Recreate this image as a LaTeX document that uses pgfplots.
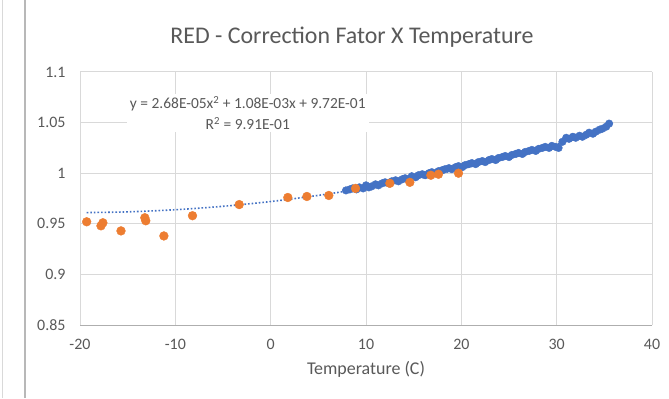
\documentclass[border=0pt]{standalone}
\usepackage{fontspec}
\setmainfont{Carlito}
\usepackage{pgfplots}
\pgfplotsset{compat=1.18}
\definecolor{xblue}{HTML}{4472C4}
\definecolor{xorange}{HTML}{ED7D31}
\definecolor{xgrid}{HTML}{D9D9D9}
\definecolor{xtext}{HTML}{595959}
\begin{document}
\begin{tikzpicture}[x=1bp,y=1bp]
\useasboundingbox (0,0) rectangle (669,398);
\fill[white] (0,0) rectangle (669,398);
\draw[xgrid,line width=1bp] (2.5,0)--(2.5,398);
\draw[xgrid!85!black,line width=1.2bp] (25,0)--(25,398);
\node[text=xtext,font=\fontsize{24}{26}\selectfont] at (352,361) {RED - Correction Fator X Temperature};
\begin{axis}[
  at={(80bp,73bp)}, anchor=south west,
  scale only axis, width=572bp, height=253bp,
  xmin=-20, xmax=40, ymin=0.85, ymax=1.1,
  xtick={-20,-10,0,10,20,30,40},
  xticklabels={-20,-10,0,10,20,30,40},
  ytick={0.85,0.9,0.95,1,1.05,1.1},
  yticklabels={0.85,0.9,0.95,1,1.05,1.1},
  grid=major, major grid style={xgrid,line width=1bp},
  axis x line*=bottom, axis y line*=left,
  x axis line style={xgrid!80!black,line width=1bp,-},
  y axis line style={draw=none},
  tick style={draw=none},
  ticklabel style={text=xtext,font=\fontsize{16}{18}\selectfont},
  xticklabel style={yshift=-11bp},
  yticklabel style={xshift=-11bp},
  xlabel={Temperature (C)},
  xlabel style={text=xtext,font=\fontsize{18}{20}\selectfont,yshift=-5bp},
  clip=false,
]
\addplot[xblue, dotted, line width=1.6bp, smooth] coordinates {
(-19.3,0.9611) (-15,0.9618) (-10,0.9639) (-5,0.9673) (0,0.972) (5,0.9781)
(10,0.9855) (15,0.9942) (20,1.0043) (25,1.0158) (30,1.0285) (35.5,1.0441)};
\addplot[only marks, mark=*, mark size=3.8bp, color=xblue, mark options={fill=xblue,draw=xblue}] coordinates {
(7.9,0.983)(8.3,0.984)(8.6,0.985)(9.0,0.984)(9.3,0.986)(9.7,0.985)(10.0,0.988)(10.3,0.986)
(10.6,0.987)(11.0,0.989)(11.3,0.988)(11.7,0.990)(12.0,0.991)(12.4,0.990)(12.7,0.992)(13.1,0.993)
(13.4,0.992)(13.8,0.994)(14.1,0.995)(14.5,0.994)(14.8,0.997)(15.2,0.996)(15.5,0.998)(15.9,0.999)
(16.2,0.998)(16.6,1.000)(16.9,1.001)(17.3,1.000)(17.6,1.002)(18.0,1.003)(18.3,1.004)(18.7,1.005)
(19.0,1.004)(19.4,1.006)(19.7,1.007)(20.1,1.006)(20.4,1.008)(20.8,1.009)(21.1,1.010)(21.5,1.009)
(21.8,1.011)(22.2,1.012)(22.5,1.011)(22.9,1.013)(23.2,1.014)(23.6,1.013)(23.9,1.015)(24.3,1.016)
(24.6,1.017)(25.0,1.016)(25.3,1.018)(25.7,1.019)(26.0,1.020)(26.4,1.019)(26.7,1.021)(27.1,1.022)
(27.4,1.023)(27.8,1.022)(28.1,1.024)(28.5,1.025)(28.8,1.026)(29.2,1.025)(29.5,1.027)(29.9,1.026)
(30.2,1.025)(30.6,1.031)(31.0,1.035)(31.3,1.034)(31.7,1.036)(32.0,1.035)(32.4,1.037)(32.7,1.036)
(33.1,1.038)(33.4,1.040)(33.8,1.039)(34.1,1.041)(34.5,1.043)(34.8,1.044)(35.2,1.046)(35.5,1.049)};
\addplot[only marks, mark=*, mark size=4.4bp, color=xorange, mark options={fill=xorange,draw=xorange}] coordinates {
(-19.3,0.952)(-17.8,0.948)(-17.6,0.951)(-15.7,0.943)(-13.2,0.956)(-13.1,0.953)(-11.2,0.938)
(-8.2,0.958)(-3.3,0.969)(1.8,0.976)(3.8,0.977)(6.1,0.978)(8.9,0.985)(12.5,0.990)(14.6,0.991)
(16.8,0.998)(17.6,0.999)(19.7,1.000)};
\node[fill=white, text=xtext, font=\fontsize{15.5}{20.5}\selectfont, align=center, inner sep=3bp]
  at (axis cs:-2.4,1.0595) {y = 2.68E-05x\textsuperscript{2} + 1.08E-03x + 9.72E-01\\R\textsuperscript{2} = 9.91E-01};
\end{axis}
\end{tikzpicture}
\end{document}
